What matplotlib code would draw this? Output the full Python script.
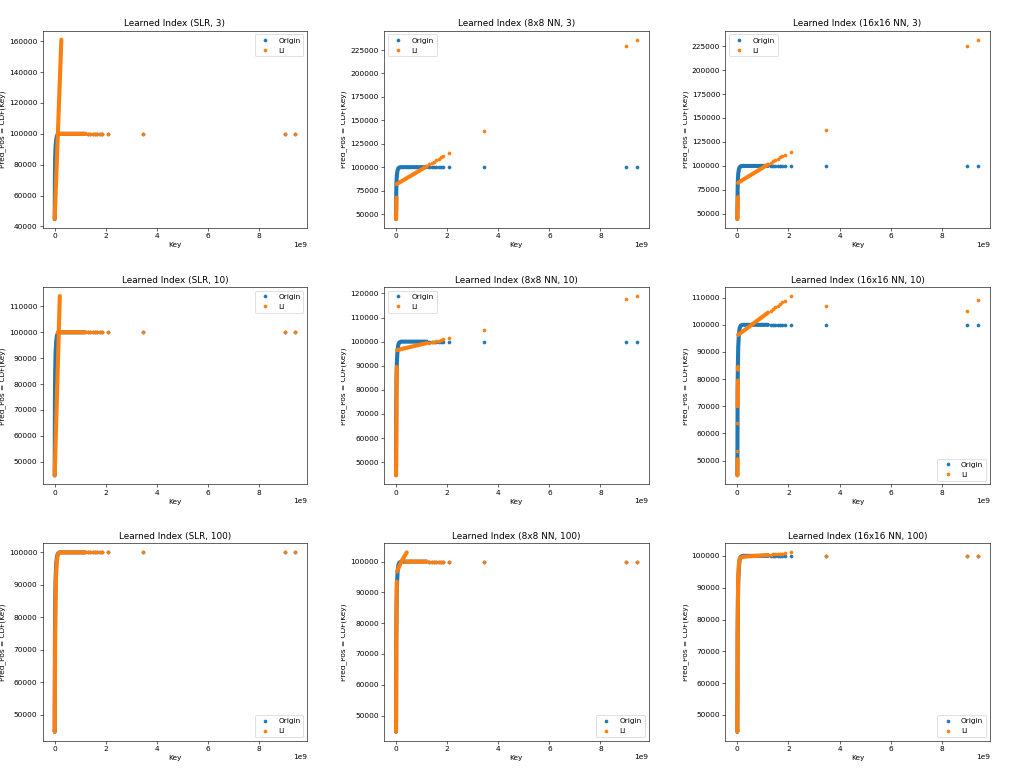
import numpy as np
import matplotlib
matplotlib.use('Agg')
import matplotlib.pyplot as plt
from matplotlib.transforms import Bbox, TransformedBbox

# keys are given in units of 1e9, positions as record index
KEY_UNIT = 1e9

# Origin (true CDF) is the same in every panel.
# *_run_* : stretches so dense that the dots merge into a stroke (None = break)
# *_tail_*: the sparse single dots
origin_run_key = [0.0, 0.005, 0.01, 0.02, 0.035, 0.06, 0.09, 0.13, 0.2, 1.2]
origin_run_pos = [44700, 60000, 75000, 85000, 92000, 96500, 98800, 99700, 100000, 100000]
tail_key = [1.3, 1.4, 1.48, 1.58, 1.67, 1.76, 1.85, 2.09, 3.46, 9.0, 9.41]
origin_tail_pos = [100000, 100000, 100000, 100000, 100000, 100000,
                   100000, 100000, 100000, 100000, 100000]

# Learned index predictions
slr3_run_key = [0.0, 0.26, None, 0.15, 1.2]
slr3_run_pos = [44700, 161000, None, 100000, 100000]
slr3_tail_pos = [100000, 100000, 100000, 100000, 100000, 100000,
                 100000, 100000, 100000, 100000, 100000]

nn8_3_run_key = [0.0, 0.02, None, 0.03, 1.2]
nn8_3_run_pos = [44500, 67500, None, 82000, 100800]
nn8_3_tail_pos = [103100, 104700, 106000, 107600, 109100, 110600,
                  112000, 115600, 138200, 229000, 236000]

nn16_3_run_key = [0.0, 0.02, None, 0.03, 1.2]
nn16_3_run_pos = [44500, 67500, None, 82500, 101500]
nn16_3_tail_pos = [103100, 104700, 106000, 107500, 109000, 110400,
                   111800, 114600, 137200, 224700, 231600]

slr10_run_key = [0.0, 0.2, None, 0.12, 1.2]
slr10_run_pos = [44800, 114000, None, 100000, 100000]
slr10_tail_pos = [100000, 100000, 100000, 100000, 100000, 100000,
                  100000, 100000, 100000, 100000, 100000]

nn8_10_run_key = [0.0, 0.03, None, 0.04, 1.2]
nn8_10_run_pos = [44500, 89500, None, 96500, 99400]
nn8_10_tail_pos = [99600, 99800, 100000, 100200, 100450, 100650,
                   100900, 101400, 104700, 117800, 118900]

nn16_10_run_key = [0.0, 0.01, None, 0.01, 0.02, None, 0.02, 0.02, None, 0.03, 1.2]
nn16_10_run_pos = [44500, 50500, None, 70000, 79500, None, 83500, 84500, None, 96300, 104500]
nn16_10_tail_key = [0.0, 0.0, 1.3, 1.4, 1.48, 1.58, 1.67, 1.76, 1.85, 2.09, 3.46, 9.0, 9.41]
nn16_10_tail_pos = [53500, 63800, 105100, 105800, 106400, 107000, 107650,
                    108300, 108900, 110600, 106900, 105100, 109100]

slr100_run_key = [0.0, 0.02, 0.05, 0.08, 0.12, 0.18, 1.2]
slr100_run_pos = [44700, 75000, 92000, 97000, 99300, 100000, 100000]
slr100_tail_pos = [100000, 100000, 100000, 100000, 100000, 100000,
                   100000, 100000, 100000, 100000, 100000]

nn8_100_run_key = [0.0, 0.01, 0.03, None, 0.04, 0.2, 0.42, None, 0.38, 1.2]
nn8_100_run_pos = [44700, 75000, 93500, None, 96800, 99900, 103000, None, 100000, 100000]
nn8_100_tail_pos = [100000, 100000, 100000, 100000, 100000, 100000,
                    100000, 100000, 100000, 100000, 100000]

nn16_100_run_key = [0.0, 0.01, 0.03, 0.06, 0.1, 0.2, 1.2]
nn16_100_run_pos = [44700, 75000, 92000, 97500, 99400, 99700, 100300]
nn16_100_tail_pos = [100380, 100450, 100520, 100590, 100660, 100720,
                     100790, 101100, 100000, 100000, 100000]

titles = ['Learned Index (SLR, 3)', 'Learned Index (8x8 NN, 3)', 'Learned Index (16x16 NN, 3)',
          'Learned Index (SLR, 10)', 'Learned Index (8x8 NN, 10)', 'Learned Index (16x16 NN, 10)',
          'Learned Index (SLR, 100)', 'Learned Index (8x8 NN, 100)', 'Learned Index (16x16 NN, 100)']

li_series = [
    (slr3_run_key, slr3_run_pos, tail_key, slr3_tail_pos),
    (nn8_3_run_key, nn8_3_run_pos, tail_key, nn8_3_tail_pos),
    (nn16_3_run_key, nn16_3_run_pos, tail_key, nn16_3_tail_pos),
    (slr10_run_key, slr10_run_pos, tail_key, slr10_tail_pos),
    (nn8_10_run_key, nn8_10_run_pos, tail_key, nn8_10_tail_pos),
    (nn16_10_run_key, nn16_10_run_pos, nn16_10_tail_key, nn16_10_tail_pos),
    (slr100_run_key, slr100_run_pos, tail_key, slr100_tail_pos),
    (nn8_100_run_key, nn8_100_run_pos, tail_key, nn8_100_tail_pos),
    (nn16_100_run_key, nn16_100_run_pos, tail_key, nn16_100_tail_pos),
]

legend_locs = ['upper right', 'upper left', 'upper left',
               'upper right', 'upper left', 'lower right',
               'lower right', 'lower right', 'lower right']

# the reference is a 3x3 montage of default 6.4x4.8 in figures,
# so draw one big figure at the matching (reduced) dpi
DPI = 1024 / 19.2
fig = plt.figure(figsize=(19.2, 769 / DPI), dpi=DPI)


def draw_series(ax, run_k, run_p, tail_k, tail_p, color, label):
    rk = np.array(run_k, dtype=float) * KEY_UNIT
    rp = np.array(run_p, dtype=float)
    ax.plot(rk, rp, '-', color=color, lw=5.5,
            solid_capstyle='round', solid_joinstyle='round')
    ax.plot(np.array(tail_k) * KEY_UNIT, tail_p, '.', color=color,
            ms=8, label=label)


for i, title in enumerate(titles):
    r, c = divmod(i, 3)
    # default subplot box (0.125, 0.11, 0.775, 0.77) inside each tile
    ax = fig.add_axes([(c + 0.125) / 3, (2 - r + 0.11) / 3, 0.775 / 3, 0.77 / 3])

    draw_series(ax, origin_run_key, origin_run_pos, tail_key, origin_tail_pos,
                'C0', 'Origin')
    rk, rp, tk, tp = li_series[i]
    draw_series(ax, rk, rp, tk, tp, 'C1', 'LI')

    ax.set_title(title)
    ax.set_xlabel('Key')
    lab = ax.set_ylabel('Pred_Pos = CDF(Key)')
    # each tile was its own image, so the y label is cut at the tile edge
    lab.set_clip_box(TransformedBbox(Bbox.from_extents(c / 3, 0, 1, 1),
                                     fig.transFigure))
    lab.set_clip_on(True)
    ax.legend(loc=legend_locs[i])

fig.savefig('out.png', dpi=DPI)
